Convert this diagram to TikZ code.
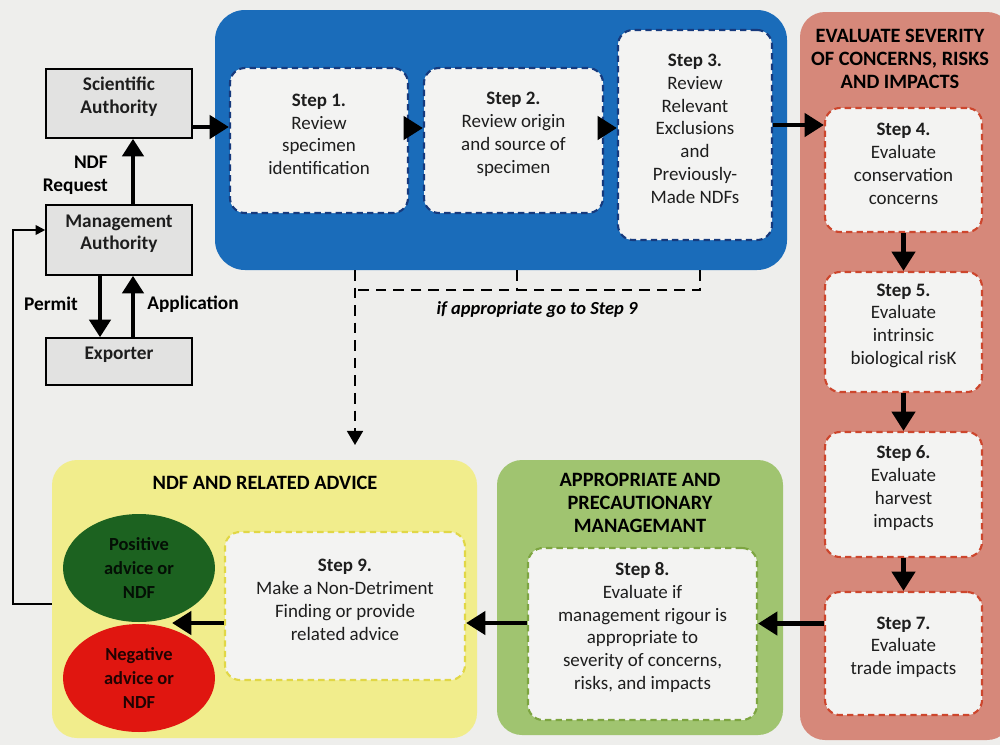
\documentclass[tikz,border=0pt]{standalone}
\usepackage{fontspec}
\setmainfont{Carlito}
\usetikzlibrary{arrows.meta,fit,shapes.geometric}
\definecolor{bg}{RGB}{238,238,236}
\definecolor{innerfill}{RGB}{243,243,242}
\definecolor{blueg}{RGB}{26,108,186}
\definecolor{bluedash}{RGB}{22,58,125}
\definecolor{salmon}{RGB}{214,136,122}
\definecolor{reddash}{RGB}{205,70,45}
\definecolor{greeng}{RGB}{160,196,112}
\definecolor{greendash}{RGB}{125,165,65}
\definecolor{yellowg}{RGB}{241,237,140}
\definecolor{yellowdash}{RGB}{225,215,70}
\definecolor{darkgreen}{RGB}{28,98,32}
\definecolor{brightred}{RGB}{224,22,16}
\definecolor{txt}{RGB}{30,30,30}
\begin{document}
\begin{tikzpicture}[x=0.02cm,y=-0.02cm,
  font=\fontsize{10.8}{13}\selectfont, text=txt,
  group/.style={draw=none, inner sep=0pt},
  stepbox/.style={draw, fill=innerfill, line width=1.2pt, dash pattern=on 3.6pt off 2.4pt,
    rounded corners=0.3cm, inner sep=0pt, align=center},
  bluestep/.style={stepbox, draw=bluedash},
  redstep/.style={stepbox, draw=reddash},
  greenstep/.style={stepbox, draw=greendash},
  yellowstep/.style={stepbox, draw=yellowdash},
  authbox/.style={draw=black, line width=0.9pt, fill=innerfill!93!black, inner sep=0pt, align=center, font=\fontsize{11}{13}\selectfont\bfseries},
  title/.style={align=center, font=\fontsize{11.6}{13.2}\selectfont\bfseries, text=black},
  bigarrow/.style={line width=2.8pt, -{Triangle[length=11pt,width=13pt]}},
  midarrow/.style={line width=2.4pt, -{Triangle[length=10pt,width=12pt]}},
  thinarrow/.style={line width=1pt, -{Triangle[length=5.5pt,width=5.5pt]}},
  dashline/.style={line width=1.3pt, dash pattern=on 6pt off 4pt},
  lbl/.style={font=\fontsize{11}{13}\selectfont\bfseries, text=black}
]
\fill[bg] (0,0) rectangle (1000,745);
\useasboundingbox (0,0) rectangle (1000,745);

% group containers
\node[group, fill=blueg, rounded corners=0.6cm, fit={(215,10)(787,270)}] (blue) {};
\node[group, fill=salmon, rounded corners=0.5cm, fit={(800,12)(1012,740)}] (red) {};
\node[group, fill=greeng, rounded corners=0.5cm, fit={(497,460)(783,735)}] (green) {};
\node[group, fill=yellowg, rounded corners=0.5cm, fit={(52,460)(477,738)}] (yel) {};

% titles
\node[title] (redtitle) at (900,59) {EVALUATE SEVERITY\\OF CONCERNS, RISKS\\AND IMPACTS};
\node[title] (greentitle) at (640,503) {APPROPRIATE AND\\PRECAUTIONARY\\MANAGEMANT};
\node[title] (yeltitle) at (265,483) {NDF AND RELATED ADVICE};

% left boxes
\node[authbox, fit={(46,69)(192,138)}] (sa) {Scientific\\Authority};
\node[authbox, fit={(46,205)(192,275)}] (ma) {Management\\Authority};
\node[authbox, fit={(46,338)(192,385)}] (ex) {Exporter};

% blue steps
\node[bluestep, fit={(230,68)(408,213)}] (s1) {\textbf{Step 1.}\\Review\\specimen\\identification};
\node[bluestep, fit={(424,68)(603,213)}] (s2) {\textbf{Step 2.}\\Review origin\\and source of\\specimen};
\node[bluestep, fit={(618,30)(772,240)}] (s3) {\textbf{Step 3.}\\Review\\Relevant\\Exclusions\\and\\Previously-\\Made NDFs};

% red steps
\node[redstep, fit={(825,108)(982,232)}] (s4) {\textbf{Step 4.}\\Evaluate\\conservation\\concerns};
\node[redstep, fit={(825,272)(982,392)}] (s5) {\textbf{Step 5.}\\Evaluate\\intrinsic\\biological risK};
\node[redstep, fit={(825,432)(982,557)}] (s6) {\textbf{Step 6.}\\Evaluate\\harvest\\impacts};
\node[redstep, fit={(825,592)(982,715)}] (s7) {\textbf{Step 7.}\\Evaluate\\trade impacts};

% green / yellow steps
\node[greenstep, fit={(528,548)(757,720)}] (s8) {\textbf{Step 8.}\\Evaluate if\\management rigour is\\appropriate to\\severity of concerns,\\risks, and impacts};
\node[yellowstep, fit={(225,532)(465,680)}] (s9) {\textbf{Step 9.}\\Make a Non-Detriment\\Finding or provide\\related advice};

% outcome ellipses
\node[ellipse, fill=darkgreen, minimum width=3.04cm, minimum height=2.16cm, inner sep=0pt, align=center,
  font=\fontsize{10.5}{13.5}\selectfont\bfseries, text=black!85!darkgreen] (pos) at (139,568) {Positive\\advice or\\NDF};
\node[ellipse, fill=brightred, minimum width=3.04cm, minimum height=2.16cm, inner sep=0pt, align=center,
  font=\fontsize{10.5}{13.5}\selectfont\bfseries, text=black!85!brightred] (neg) at (139,678) {Negative\\advice or\\NDF};

% labels on the left
\node[lbl, anchor=east, align=right] (ndfreq) at (114,175) {NDF\\Request};
\node[lbl] (permit) at (51,304) {Permit};
\node[lbl] (appl) at (193,304) {Application};

% left arrows
\draw[midarrow] ([xshift=0.28cm]ma.north) -- ([xshift=0.28cm]sa.south);
\draw[midarrow] ([xshift=-0.38cm]ma.south) -- ([xshift=-0.38cm]ex.north);
\draw[midarrow] ([xshift=0.28cm]ex.north) -- ([xshift=0.28cm]ma.south);

% main flow arrows
\draw[bigarrow] ([yshift=-0.47cm]sa.east) -- ([yshift=-0.47cm]sa.east -| s1.west);
\draw[bigarrow] ([yshift=0.25cm]s1.east) -- ([yshift=0.25cm]s2.west);
\draw[bigarrow] ([yshift=0.25cm]s2.east) -- ([yshift=0.25cm]s2.east -| s3.west);
\draw[bigarrow] ([yshift=0.2cm]s3.east) -- ([yshift=0.2cm]s3.east -| s4.west);
\draw[bigarrow] (s4.south) -- (s5.north);
\draw[bigarrow] (s5.south) -- (s6.north);
\draw[bigarrow] (s6.south) -- (s7.north);
\draw[bigarrow] ([yshift=0.6cm]s7.west) -- ([yshift=0.6cm]s7.west -| s8.east);
\draw[bigarrow] ([yshift=0.22cm]s8.west) -- ([yshift=0.22cm]s8.west -| s9.east);
\coordinate (adv) at (172,623);
\draw[bigarrow] (s9.west |- adv) -- (adv);

% feedback line
\coordinate (fb) at (13,604);
\draw[thinarrow] (yel.west |- fb) -- (fb) |- ([yshift=0.2cm]ma.west);

% dashed "if appropriate" paths
\coordinate (d1) at (355,270);
\coordinate (d2) at (355,290);
\coordinate (d3) at (517,270);
\coordinate (d4) at (517,290);
\coordinate (d5) at (700,270);
\coordinate (d6) at (700,290);
\coordinate (d7) at (355,445);
\draw[dashline] (d5) -- (d6) -- (d2);
\draw[dashline] (d3) -- (d4);
\draw[dashline, -{Triangle[length=8pt,width=9pt]}] (d1) -- (d7);
\node[font=\fontsize{10.5}{12}\selectfont\bfseries\itshape, text=black] (iflbl) at (537,310) {if appropriate go to Step 9};
\end{tikzpicture}
\end{document}
